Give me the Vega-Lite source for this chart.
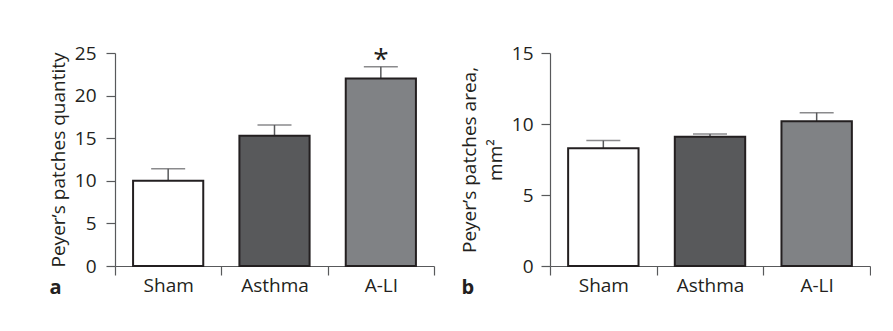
{
  "$schema": "https://vega.github.io/schema/vega-lite/v6.json",
  "padding": {"left": 49, "top": 44, "right": 0, "bottom": 14},
  "background": "white",
  "spacing": 25,
  "config": {
    "font": "Open Sans",
    "view": {"stroke": null},
    "axis": {
      "domainColor": "#58595b",
      "tickColor": "#58595b",
      "domainWidth": 1.2,
      "tickWidth": 1.2,
      "tickSize": 9,
      "labelFontSize": 19,
      "labelColor": "#231f20",
      "titleColor": "#231f20",
      "titleFontSize": 19,
      "titleFontWeight": "normal",
      "grid": false
    }
  },
  "datasets": {
    "quantity": [
      {"group": "Sham", "value": 10.0, "upper": 11.4, "sig": ""},
      {"group": "Asthma", "value": 15.3, "upper": 16.55, "sig": ""},
      {"group": "A-LI", "value": 22.0, "upper": 23.4, "sig": "*"}
    ],
    "area": [
      {"group": "Sham", "value": 8.3, "upper": 8.83, "sig": ""},
      {"group": "Asthma", "value": 9.1, "upper": 9.3, "sig": ""},
      {"group": "A-LI", "value": 10.2, "upper": 10.8, "sig": ""}
    ]
  },
  "hconcat": [
    {
      "width": 319,
      "height": 213,
      "data": {"name": "quantity"},
      "encoding": {
        "x": {
          "field": "group", "type": "nominal", "sort": ["Sham", "Asthma", "A-LI"],
          "scale": {"paddingInner": 0, "paddingOuter": 0},
          "axis": {
            "title": "a", "titleFontWeight": "bold", "titleFontSize": 20,
            "titleAnchor": "start", "titleAlign": "left", "titleBaseline": "top",
            "titleX": -66, "titleY": 11,
            "labelAngle": 0, "labelPadding": 1, "labelFontSize": 19, "tickBand": "extent"
          }
        }
      },
      "layer": [
        {
          "mark": {"type": "rule", "color": "#58595b", "strokeWidth": 1.5},
          "encoding": {
            "y": {"field": "value", "type": "quantitative"},
            "y2": {"field": "upper"}
          }
        },
        {
          "mark": {"type": "tick", "size": 34, "thickness": 1.5, "color": "#58595b"},
          "encoding": {"y": {"field": "upper", "type": "quantitative"}}
        },
        {
          "mark": {"type": "bar", "width": {"band": 0.66}, "stroke": "#231f20", "strokeWidth": 2},
          "encoding": {
            "y": {
              "field": "value", "type": "quantitative",
              "scale": {"domain": [0, 25], "nice": false},
              "axis": {"title": "Peyer’s patches quantity", "values": [0, 5, 10, 15, 20, 25], "labelPadding": 10, "titlePadding": 6, "labelFontSize": 19, "titleFontSize": 19}
            },
            "fill": {
              "field": "group", "type": "nominal",
              "scale": {"domain": ["Sham", "Asthma", "A-LI"], "range": ["#ffffff", "#58595b", "#808285"]},
              "legend": null
            }
          }
        },
        {
          "mark": {"type": "text", "fontSize": 28, "color": "#231f20", "baseline": "alphabetic", "dy": 2},
          "encoding": {
            "y": {"field": "upper", "type": "quantitative"},
            "text": {"field": "sig"}
          }
        }
      ]
    },
    {
      "width": 320,
      "height": 213,
      "data": {"name": "area"},
      "encoding": {
        "x": {
          "field": "group", "type": "nominal", "sort": ["Sham", "Asthma", "A-LI"],
          "scale": {"paddingInner": 0, "paddingOuter": 0},
          "axis": {
            "title": "b", "titleFontWeight": "bold", "titleFontSize": 20,
            "titleAnchor": "start", "titleAlign": "left", "titleBaseline": "top",
            "titleX": -89, "titleY": 11,
            "labelAngle": 0, "labelPadding": 1, "labelFontSize": 19, "tickBand": "extent"
          }
        }
      },
      "layer": [
        {
          "mark": {"type": "rule", "color": "#58595b", "strokeWidth": 1.5},
          "encoding": {
            "y": {"field": "value", "type": "quantitative"},
            "y2": {"field": "upper"}
          }
        },
        {
          "mark": {"type": "tick", "size": 34, "thickness": 1.5, "color": "#58595b"},
          "encoding": {"y": {"field": "upper", "type": "quantitative"}}
        },
        {
          "mark": {"type": "bar", "width": {"band": 0.66}, "stroke": "#231f20", "strokeWidth": 2},
          "encoding": {
            "y": {
              "field": "value", "type": "quantitative",
              "scale": {"domain": [0, 15], "nice": false},
              "axis": {"title": ["Peyer’s patches area,", "mm²"], "titleLineHeight": 26, "values": [0, 5, 10, 15], "labelPadding": 8, "titlePadding": 6, "labelFontSize": 19, "titleFontSize": 19}
            },
            "fill": {
              "field": "group", "type": "nominal",
              "scale": {"domain": ["Sham", "Asthma", "A-LI"], "range": ["#ffffff", "#58595b", "#808285"]},
              "legend": null
            }
          }
        }
      ]
    }
  ]
}
